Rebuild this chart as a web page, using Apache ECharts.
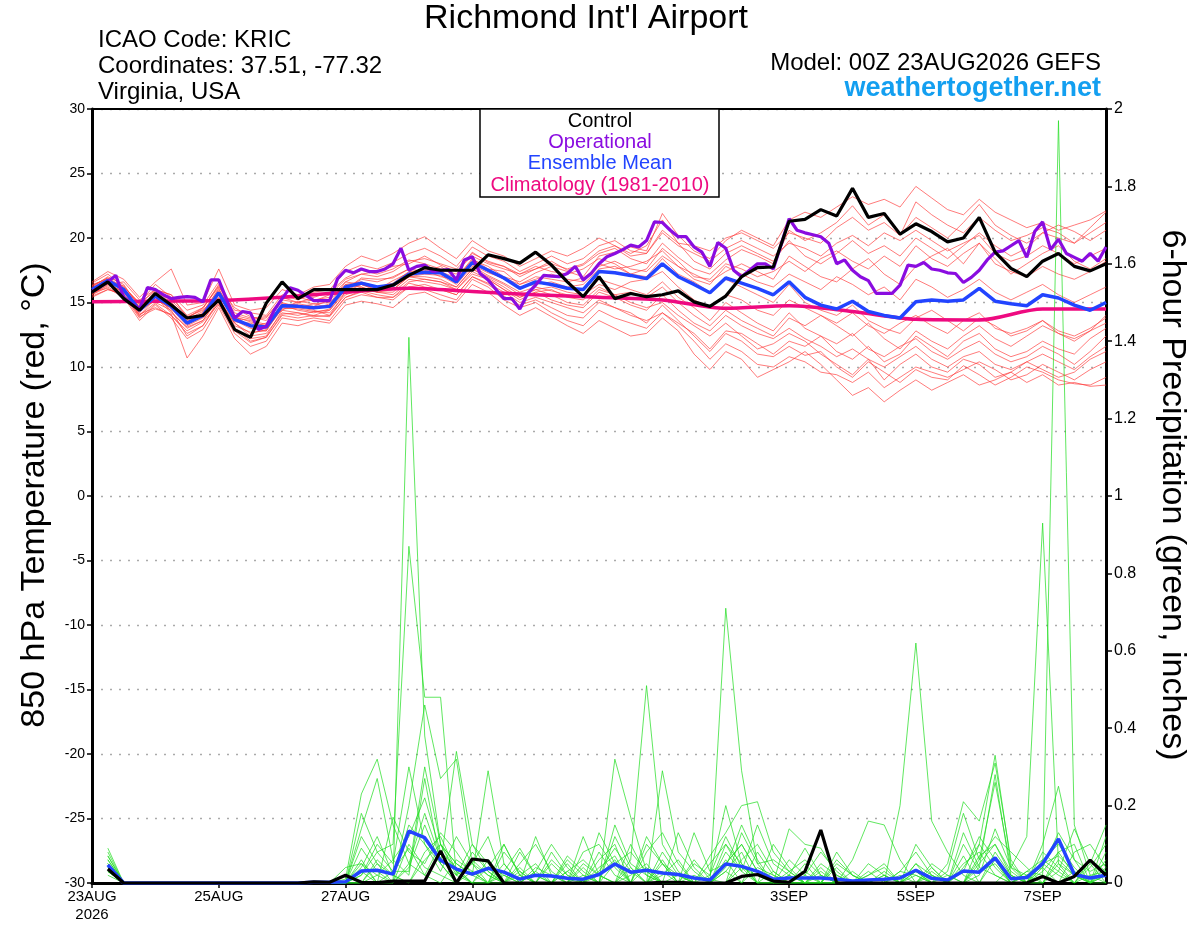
<!DOCTYPE html>
<html>
<head>
<meta charset="utf-8">
<title>Richmond Int'l Airport - GEFS</title>
<script src="https://cdn.jsdelivr.net/npm/echarts@6/dist/echarts.min.js"></script>
<style>
  html, body { margin: 0; padding: 0; background: #fff; }
  #main { width: 1200px; height: 927px; }
</style>
</head>
<body>
<div id="main"></div>
<script>
// x tick labels (hour offset from 00Z 23AUG2026 -> label)
var dayTicks = [0, 48, 96, 144, 216, 264, 312, 360];
var dayLabels = ['23AUG\n2026', '25AUG', '27AUG', '29AUG', '1SEP', '3SEP', '5SEP', '7SEP'];

// 850 hPa temperature, 6-hourly from 00h to 384h
var controlTemp = [15.8, 16.6, 15.3, 14.4, 15.7, 14.8, 13.8, 14.0, 15.2, 12.9, 12.3, 14.95, 16.6, 15.3, 16.0, 16.0,
  16.0, 16.0, 16.0, 16.35, 17.1, 17.7, 17.5, 17.5, 17.5, 18.7, 18.4, 18.05, 18.9, 17.9, 16.6, 15.45,
  17.0, 15.3, 15.7, 15.45, 15.6, 15.9, 15.05, 14.7, 15.5, 17.0, 17.7, 17.75, 21.3, 21.45, 22.2, 21.7,
  23.85, 21.6, 21.9, 20.3, 21.1, 20.5, 19.7, 20.0, 21.6, 18.9, 17.65, 17.0, 18.2, 18.8, 17.8, 17.45, 18.0];

var meanTemp = [16.0, 16.7, 16.0, 14.4, 15.5, 14.7, 13.4, 14.0, 15.75, 13.7, 13.2, 13.1, 14.75, 14.7, 14.6, 14.7,
  16.2, 16.5, 16.2, 16.35, 17.2, 17.35, 17.3, 16.6, 18.1, 17.5, 16.9, 16.1, 16.6, 16.4, 16.1, 16.0,
  17.4, 17.3, 17.1, 16.85, 18.0, 17.0, 16.4, 15.75, 16.9, 16.5, 16.1, 15.6, 16.6, 15.4, 14.8, 14.5,
  15.1, 14.3, 14.0, 13.8, 15.06, 15.2, 15.1, 15.2, 16.1, 15.1, 14.9, 14.75, 15.6, 15.35, 14.8, 14.4, 15.0];

// operational run, 3-hourly from 00h to 384h
var operTemp = [15.85, 16.2, 16.6, 17.1, 15.4, 14.9, 14.5, 16.15, 16.0, 15.6, 15.3, 15.4, 15.45, 15.4, 15.05, 16.75,
  16.75, 15.2, 13.8, 14.3, 14.2, 12.9, 13.15, 14.4, 15.3, 16.15, 15.95, 15.55, 15.15, 15.15, 15.15, 16.85,
  17.5, 17.3, 17.6, 17.4, 17.4, 17.6, 18.0, 19.2, 17.5, 17.8, 17.9, 17.4, 17.5, 17.55, 16.75, 18.3,
  18.55, 17.25, 16.75, 16.0, 15.3, 15.3, 14.5, 15.7, 16.35, 17.1, 17.05, 17.0, 17.25, 17.8, 16.75, 17.25,
  18.0, 18.55, 18.8, 19.1, 19.45, 19.3, 19.8, 21.25, 21.2, 20.6, 20.1, 20.1, 19.3, 18.9, 17.8, 19.65,
  19.2, 17.5, 17.0, 17.5, 18.0, 18.0, 17.6, 19.5, 21.5, 20.6, 20.4, 20.25, 20.1, 19.6, 18.0, 18.3,
  17.5, 17.0, 16.7, 15.7, 15.7, 15.7, 16.35, 17.9, 17.8, 18.1, 17.6, 17.5, 17.3, 17.25, 16.55, 16.95,
  17.5, 18.3, 18.9, 19.0, 19.4, 19.8, 18.5, 20.5, 21.25, 19.1, 19.9, 18.8, 18.5, 18.2, 18.8, 18.2, 19.3];

// climatology (1981-2010), daily
var climTemp = [15.05, 15.1, 15.15, 15.4, 15.8, 16.1, 15.85, 15.6, 15.4, 15.2, 14.55, 14.75, 14.3, 13.7, 13.65, 14.5, 14.5];

// ensemble members, 6-hourly
var memberTemps = [
  [16.3,16.9,16.2,15.0,16.4,15.4,14.0,14.6,16.3,14.2,13.8,13.9, 15.2,15.0,15.4,15.8,16.9,17.5,17.2,17.6,18.3,18.0,17.6,17.2,18.9,18.1,
   17.8,17.0,17.6,18.2,17.5,17.9,18.8,19.2,18.4,18.0,19.6,18.5,17.6,17.2,18.3,19.1,18.6,18.0,
   20.6,19.8,20.4,21.2,22.5,21.0,21.8,20.2,21.6,20.8,20.0,21.2,22.6,21.0,20.2,19.6,20.4,21.0,20.5,19.8,20.6],
  [15.6,16.2,15.5,13.8,14.9,14.0,12.6,13.2,15.0,12.8,11.9,12.3, 14.1,14.2,13.9,14.0,15.4,15.9,15.6,15.4,16.5,16.2,16.0,15.6,17.0,16.4,
   15.5,14.8,15.2,14.6,14.0,13.8,15.0,14.6,14.2,13.4,14.8,13.6,12.4,11.2,12.6,12.0,11.0,10.8,
   11.6,10.9,11.2,10.0,9.2,10.4,9.6,8.8,9.8,9.2,9.0,10.1,9.4,8.6,9.2,10.0,9.6,9.0,8.7,8.6,9.2],
  [16.1,16.6,16.3,14.8,15.2,15.0,13.7,14.3,16.0,14.0,13.1,13.4, 14.4,15.1,14.9,14.6,16.0,16.8,16.6,17.0,17.6,17.9,17.4,16.9,18.3,17.8,
   17.0,16.6,17.3,17.8,17.4,17.0,18.6,18.9,19.3,19.0,21.9,20.2,19.0,18.4,19.8,20.6,20.0,19.4,
   21.4,22.0,21.6,22.4,23.2,22.6,23.0,22.4,24.0,23.1,22.2,21.8,23.0,22.0,21.4,20.8,21.2,20.6,21.0,21.4,22.1],
  [15.9,16.5,15.8,14.2,15.6,14.3,13.0,13.6,15.4,13.2,12.7,12.8, 14.8,14.4,14.2,14.5,16.4,16.2,15.8,16.0,17.0,17.2,17.1,16.4,17.8,17.1,
   16.5,15.8,16.2,15.9,15.6,15.4,16.8,16.4,16.0,15.6,16.6,15.4,14.6,13.6,15.0,14.2,13.4,12.8,
   14.2,13.0,12.4,11.8,12.6,11.4,10.8,11.6,12.2,11.2,10.6,11.4,12.0,11.0,10.4,10.8,11.6,11.0,10.2,11.2,12.4],
  [16.2,17.0,16.4,14.6,15.8,15.2,13.9,14.4,15.6,13.5,13.4,13.0, 15.0,14.6,14.9,15.0,16.0,16.9,16.8,16.9,17.6,17.4,17.8,16.9,18.4,17.6,
   17.4,16.4,17.0,16.8,16.6,16.9,17.8,18.2,17.6,17.4,18.6,17.8,17.2,16.6,17.4,18.0,17.4,16.8,
   18.6,17.8,17.0,16.6,17.6,18.4,17.2,16.4,17.8,18.6,19.2,18.0,19.6,18.4,17.2,18.0,18.8,19.4,18.2,17.6,18.4],
  [15.4,16.0,15.6,13.9,14.5,14.1,10.7,12.4,14.6,12.2,11.0,11.6, 13.4,13.2,13.6,13.4,14.8,15.1,14.9,14.6,15.6,15.8,15.2,15.0,16.4,15.8,
   14.8,14.0,14.6,13.9,13.2,12.6,13.6,13.0,12.4,12.6,13.8,12.8,11.0,9.8,11.2,10.6,9.2,9.8,
   10.4,11.2,10.2,9.0,7.8,8.4,7.3,8.2,9.0,8.2,8.8,9.4,8.6,9.0,9.6,8.8,9.4,8.6,8.8,8.5,8.6],
  [16.4,16.8,16.1,14.5,15.1,14.9,13.6,14.1,15.9,13.9,13.5,13.2, 14.9,14.8,14.5,14.9,16.6,16.4,16.0,16.7,17.3,17.6,17.4,16.7,18.2,17.4,
   16.8,16.2,16.4,16.6,16.2,16.4,17.6,17.8,17.2,17.0,18.4,17.2,16.6,15.8,16.8,16.2,15.6,15.0,
   16.4,15.0,14.4,14.0,14.8,13.6,13.0,12.6,13.8,14.4,13.6,12.8,13.8,13.2,12.4,12.8,13.6,12.6,12.2,12.8,13.4],
  [16.0,16.4,16.6,15.2,16.0,15.6,14.4,14.8,16.6,14.4,14.2,14.0, 15.6,15.2,15.8,16.0,17.4,17.9,17.6,18.1,18.8,19.2,18.6,17.8,19.3,18.6,
   18.2,17.4,18.0,18.6,18.0,18.4,19.4,19.8,19.0,18.8,20.4,19.4,18.8,18.2,19.2,19.8,19.2,18.6,
   19.6,19.2,18.6,19.6,20.2,19.4,20.4,19.8,20.6,19.8,19.0,19.6,20.2,18.8,18.2,18.6,19.4,18.8,18.0,18.6,19.2],
  [15.7,16.3,15.9,14.0,15.3,14.5,13.2,13.8,15.2,13.4,12.4,12.6, 14.2,14.0,14.3,14.2,15.6,16.0,15.8,15.8,16.8,16.6,16.4,16.0,17.4,16.8,
   16.0,15.2,15.8,15.2,14.8,14.6,15.8,15.4,14.8,14.4,15.6,14.4,13.4,12.8,14.0,13.2,12.6,12.2,
   13.0,12.2,11.6,10.8,11.4,10.6,10.0,10.8,11.6,10.6,10.0,10.8,11.2,10.2,9.8,10.4,11.0,10.4,9.8,10.8,11.6],
  [16.5,17.2,16.2,14.9,16.0,15.6,13.8,14.6,16.2,14.6,13.9,13.6, 15.3,15.4,15.1,15.6,16.8,17.2,17.4,17.8,18.0,18.6,17.9,17.4,18.6,18.0,
   17.6,17.2,17.8,17.4,17.2,17.6,18.4,18.0,17.2,17.6,19.2,18.2,17.0,16.8,18.0,17.6,17.0,17.4,
   18.2,17.4,18.4,19.0,18.2,17.6,18.6,17.8,19.4,18.4,17.8,18.8,19.6,18.0,17.4,17.0,17.8,17.2,16.8,17.4,18.2],
  [15.8,16.1,15.4,13.6,14.8,13.8,12.2,12.9,14.8,12.6,11.6,12.0, 13.8,13.6,13.8,13.6,15.2,15.6,15.4,15.2,16.2,16.0,15.6,15.2,16.8,16.2,
   15.2,14.6,15.0,14.2,13.6,13.2,14.4,13.8,13.4,13.0,14.2,13.2,12.0,10.6,11.8,11.2,10.2,10.0,
   10.8,10.4,9.6,9.4,8.8,9.6,8.4,9.2,10.0,9.6,9.2,9.8,10.4,9.8,9.0,9.4,10.2,9.6,9.0,9.8,10.4],
  [16.2,16.8,15.9,14.7,15.4,14.8,13.5,14.2,16.1,13.8,13.6,13.3, 14.8,14.9,14.7,15.2,16.4,16.6,16.2,16.5,17.4,17.5,17.0,16.8,17.9,17.3,
   16.9,16.4,16.8,17.2,16.8,16.6,18.0,17.6,17.8,18.2,19.0,17.8,16.8,16.4,17.8,17.2,16.6,16.2,
   17.2,16.6,16.0,17.0,16.4,15.6,16.2,15.2,16.8,16.2,15.4,16.0,16.8,15.8,15.2,15.8,16.4,15.6,15.0,15.6,16.2],
  [15.5,16.0,15.7,14.1,14.6,14.0,12.8,13.5,14.9,13.0,12.0,12.3, 14.0,13.8,14.0,13.9,15.4,15.8,15.4,15.4,16.2,16.4,16.0,15.6,17.0,16.5,
   15.8,15.0,15.4,15.0,14.6,14.2,15.2,14.6,14.0,13.6,14.2,13.4,12.6,11.4,12.8,12.6,11.8,11.0,
   12.0,11.6,12.4,11.2,10.6,11.6,10.4,11.0,12.4,11.6,10.8,12.0,12.6,11.4,10.8,11.2,12.0,11.4,11.0,12.2,13.0],
  [16.6,17.4,16.8,15.4,16.6,17.6,14.8,15.0,17.6,14.8,14.4,14.6, 16.0,15.6,16.2,16.4,17.8,18.6,18.2,18.8,19.6,20.1,19.2,18.4,19.8,19.0,
   18.6,17.8,18.4,19.0,18.6,19.2,20.0,19.4,18.6,18.8,20.6,19.6,19.4,19.0,20.0,20.4,19.8,19.2,
   20.4,20.0,19.6,20.8,21.6,20.6,21.2,20.2,22.8,21.8,21.0,20.4,21.6,20.6,19.8,20.2,20.8,20.4,19.6,20.4,21.2],
  [15.9,16.6,16.0,14.3,15.2,14.6,13.3,13.9,15.6,13.6,13.0,12.8, 14.6,14.5,14.3,14.4,16.0,16.4,16.1,16.2,17.0,17.0,16.8,16.2,17.6,17.0,
   16.4,15.6,16.0,16.2,15.8,15.6,16.4,16.0,16.6,16.8,17.4,16.2,15.2,14.6,15.6,15.2,14.4,14.0,
   15.2,14.6,14.0,13.4,14.2,13.2,12.6,13.4,14.0,13.2,12.6,13.6,14.2,13.0,12.6,13.0,13.6,12.8,12.4,13.0,13.8],
  [16.0,16.5,15.6,14.0,15.0,14.4,12.4,13.2,15.2,13.0,12.2,12.4, 14.4,14.2,14.0,14.4,15.8,16.2,15.8,15.6,16.6,16.8,16.6,16.0,17.2,16.8,
   16.0,15.4,16.0,15.6,15.0,14.8,16.0,15.6,15.0,14.6,15.0,14.0,13.2,12.4,13.4,12.4,11.4,11.8,
   12.6,12.0,11.0,10.2,9.4,10.6,9.0,10.2,11.0,10.0,9.6,10.6,10.2,9.2,9.6,10.4,9.8,9.2,9.6,10.6,11.2],
  [16.3,16.9,16.0,14.9,15.9,15.0,13.8,14.5,16.4,14.0,13.7,13.8, 15.4,15.0,15.2,15.4,16.6,17.2,17.0,17.4,18.2,18.4,18.0,17.6,18.8,18.2,
   17.8,17.2,17.6,18.0,17.6,18.0,19.0,19.4,18.8,19.4,21.4,19.6,18.2,17.6,18.8,19.4,18.8,18.2,
   19.8,18.6,18.0,18.8,19.8,18.8,19.4,18.6,20.0,19.2,18.4,19.4,20.4,19.4,18.6,19.2,20.4,20.0,19.6,20.8,22.0],
  [15.6,16.4,15.8,14.4,15.4,14.2,13.1,13.6,15.3,13.4,12.6,12.9, 14.5,14.6,14.4,14.0,15.8,16.4,15.9,16.0,17.0,16.8,16.6,16.2,17.6,16.9,
   16.2,15.4,15.8,16.0,15.4,15.2,16.2,15.6,15.8,15.4,16.2,15.0,14.0,13.2,14.4,13.6,13.0,12.4,
   13.8,13.2,14.0,13.2,12.4,13.4,12.2,11.4,12.8,12.0,11.4,12.4,13.2,12.2,11.6,12.4,13.2,12.6,12.0,12.8,14.0]
];

// 6-hour precipitation (inches), 6-hourly from 06h to 384h
var controlPrecip = [0.036, 0, 0, 0, 0, 0, 0, 0, 0, 0, 0, 0, 0, 0.003, 0.002, 0.02,
  0.002, 0.001, 0.005, 0.005, 0.005, 0.083, 0, 0.062, 0.057, 0, 0, 0, 0, 0, 0, 0,
  0, 0, 0, 0.002, 0.002, 0, 0, 0, 0.017, 0.022, 0.005, 0.002, 0.03, 0.137, 0, 0,
  0, 0, 0, 0, 0, 0, 0, 0, 0, 0, 0, 0.017, 0, 0.017, 0.059, 0.02];

var meanPrecip = [0.047, 0, 0, 0, 0, 0, 0, 0, 0, 0, 0, 0, 0, 0.002, 0.002, 0.003,
  0.031, 0.033, 0.023, 0.134, 0.117, 0.059, 0.036, 0.023, 0.038, 0.028, 0.01, 0.02, 0.018, 0.012, 0.01, 0.022,
  0.049, 0.028, 0.033, 0.026, 0.022, 0.013, 0.008, 0.049, 0.043, 0.03, 0.01, 0.013, 0.013, 0.013, 0.01, 0.005,
  0.008, 0.01, 0.013, 0.033, 0.012, 0.008, 0.031, 0.028, 0.065, 0.011, 0.014, 0.05, 0.114, 0.022, 0.013, 0.02];

var memberPrecip = [
  [.05,0,0,0,0,0,0,0, 0,0,0,0,0,0,0,.01, .23,.32,.15,.05,.02,.1,.05,.02, .04,.1,.02,0,0,.03,0,0,
   .15,.05,.02,0,0,0,0,.05, .1,.03,0,0,.02,.08,.03,0, 0,0,0,.05,0,0,0,.1, .33,.05,0,.03,.08,.02,0,0],
  [.04,0,0,0,0,0,0,0, 0,0,0,0,0,0,0,0, .05,.02,0,1.41,.38,.1,.03,0, 0,.05,0,.12,.02,0,0,.06,
   .1,0,0,.03,0,0,.02,.12, .04,0,0,.06,.02,0,0,0, .02,.04,0,0,0,0,.03,.12, .06,0,.02,.05,.02,0,.04,.1],
  [.07,0,0,0,0,0,0,0, 0,0,0,0,0,0,0,0, .18,.08,.1,.87,.48,.48,.02,.05, .12,0,.08,.02,0,0,.12,.02,
   0,0,.08,.13,.05,0,0,0, .06,.1,.03,0,0,0,.05,.02, 0,0,0,.02,0,.05,.21,.16, .31,.06,0,.02,0,.03,0,.04],
  [.03,0,0,0,0,0,0,0, 0,0,0,0,0,0,0,0, .14,.27,.06,.02,.27,.05,.34,.1, .05,.02,0,0,.08,.02,0,0,
   .32,.17,.03,0,0,.05,.02,.2, .05,0,0,.14,.1,.09,.02,0, 0,0,.03,.08,.02,0,0,0, .08,.02,0,.06,.1,.04,0,.02],
  [.06,0,0,0,0,0,0,0, 0,0,0,0,0,0,0,0, .09,.03,0,.2,.46,.27,.32,.05, .02,0,.03,0,0,.07,.03,0,
   0,.06,.51,.1,.03,0,0,.03, 0,.04,.02,0,0,0,.08,.02, 0,0,0,0,.05,.02,0,.06, .12,.08,.04,0,.05,0,.02,0],
  [.08,0,0,0,0,0,0,0, 0,0,0,0,0,0,0,.04, .05,0,.17,.08,.05,.13,.08,.02, .29,.05,0,.03,.1,.04,0,.13,
   .05,0,0,.29,.08,.03,0,.71, .29,.05,0,0,.05,0,0,.06, .16,.15,.06,0,.02,0,0,.04, .02,0,.03,.06,.03,.14,.05,0],
  [.02,0,0,0,0,0,0,0, 0,0,0,0,0,0,0,0, 0,.05,.02,.15,.1,.05,0,.08, .03,0,.05,.1,.03,0,.08,.1,
   .04,0,.1,.05,0,0,.07,.13, .2,.21,.08,.03,0,.05,.02,0, 0,0,.2,.62,.16,.08,.02,0, 0,.04,.02,0,.06,.02,0,.12],
  [.04,0,0,0,0,0,0,0, 0,0,0,0,0,0,0,0, .02,.1,.05,.3,.1,.03,.12,.05, 0,.08,.03,0,0,.03,.06,.02,
   0,.1,.02,0,.13,.04,0,0, .13,.05,.06,.03,0,.02,0,0, .02,.05,0,.03,0,.03,.18,.06, .26,.04,.12,.93,.05,.02,0,.06],
  [.05,0,0,0,0,0,0,0, 0,0,0,0,0,0,0,0, .03,0,0,.05,.18,.06,.02,.1, .03,0,0,.04,.02,0,0,.03,
   .09,.03,0,.06,0,.13,.03,.05, .1,.03,0,.02,.09,.02,0,0, .03,0,0,.05,.02,0,.1,.03, .05,0,.03,.02,1.97,.15,.02,.03],
  [.03,0,0,0,0,0,0,0, 0,0,0,0,0,0,0,0, 0,.02,.06,.12,.22,.08,.04,0, 0,.03,.09,.02,0,0,.02,0,
   .05,.08,.03,0,.02,0,0,.08, .03,.15,.05,.02,0,0,.06,.02, 0,0,.02,0,0,0,.13,.04, .28,.02,0,.04,.13,.06,.03,.05],
  [.06,0,0,0,0,0,0,0, 0,0,0,0,0,0,0,0, .12,.05,0,.1,.04,.02,0,.06, .02,0,0,0,.05,.01,0,.08,
   .02,0,.12,.05,0,0,.05,.1, .03,0,.1,.04,0,0,0,.03, 0,.02,0,0,.04,0,.05,.08, .02,0,0,.1,.25,.06,0,.02],
  [.09,0,0,0,0,0,0,0, 0,0,0,0,0,0,0,0, .02,.08,.03,.03,.3,.1,.05,.02, 0,.1,.02,0,0,.06,.02,0,
   .12,.04,0,.05,.02,0,0,.04, .15,.06,0,.03,.06,.02,0,0, 0,.03,0,.1,.04,0,0,.07, .1,.03,0,.08,.04,0,.06,.03],
  [.04,0,0,0,0,0,0,0, 0,0,0,0,0,0,0,0, 0,.06,.02,0,.08,.12,.03,0, .06,0,.02,.05,0,0,.04,0,
   0,.02,.05,0,0,.02,0,.06, 0,.08,.02,0,0,.04,0,0, 0,.02,0,0,0,.02,0,.05, .1,.02,0,0,.08,.1,0,.03],
  [.05,0,0,0,0,0,0,0, 0,0,0,0,0,0,0,0, .06,0,0,.04,.15,.05,0,.03, 0,.02,0,0,.06,.02,0,.04,
   .07,0,0,.02,.06,0,0,.1, .05,0,0,.02,0,0,.04,0, 0,0,.03,.02,0,0,.07,0, .06,0,.02,.04,0,.08,.1,.04],
  [.03,0,0,0,0,0,0,0, 0,0,0,0,0,0,0,0, 0,0,.03,.09,.02,0,.06,.03, 0,0,.04,0,0,.05,0,.02,
   .06,0,.04,0,0,.06,.01,0, .04,.02,0,0,.03,0,0,0, .05,.02,0,0,.03,0,0,.02, .14,.04,0,0,.03,0,.05,.15],
  [.07,0,0,0,0,0,0,0, 0,0,0,0,0,0,0,0, .04,.12,.02,0,.06,.1,.02,0, .04,0,0,.03,0,0,.05,.02,
   0,.04,0,.08,.02,0,0,.03, .08,0,.03,0,0,.03,0,0, 0,0,0,.03,0,0,.04,.1, .04,0,0,.05,.07,.03,0,.08]
];

var chartDom = document.getElementById('main');
var myChart = echarts.init(chartDom);
var option;

var font = "'Liberation Sans', Arial, sans-serif";

function everySix(vals, start) {
  return vals.map(function (v, i) { return [start + i * 6, v]; });
}

var series = [];

memberTemps.forEach(function (m, k) {
  series.push({
    name: 'member' + k,
    type: 'line',
    yAxisIndex: 0,
    data: everySix(m, 0),
    symbol: 'none',
    silent: true,
    lineStyle: { color: '#ff3a3a', width: 0.9, opacity: 0.75 }
  });
});

memberPrecip.forEach(function (m, k) {
  series.push({
    name: 'precip' + k,
    type: 'line',
    yAxisIndex: 1,
    data: everySix(m, 6),
    symbol: 'none',
    silent: true,
    lineStyle: { color: '#22dd22', width: 0.8, opacity: 0.9 }
  });
});

series.push({
  name: 'Climatology (1981-2010)',
  type: 'line',
  yAxisIndex: 0,
  data: climTemp.map(function (v, d) { return [d * 24, v]; }),
  symbol: 'none',
  smooth: 0.3,
  lineStyle: { color: '#ee0a80', width: 3.5 }
});
series.push({
  name: 'Ensemble Mean',
  type: 'line',
  yAxisIndex: 0,
  data: everySix(meanTemp, 0),
  symbol: 'none',
  lineStyle: { color: '#2244ff', width: 3.5 }
});
series.push({
  name: 'Operational',
  type: 'line',
  yAxisIndex: 0,
  data: operTemp.map(function (v, j) { return [j * 3, v]; }),
  symbol: 'none',
  lineStyle: { color: '#8a0ce0', width: 3.2 }
});
series.push({
  name: 'Control',
  type: 'line',
  yAxisIndex: 0,
  data: everySix(controlTemp, 0),
  symbol: 'none',
  lineStyle: { color: '#000', width: 3.2 }
});
series.push({
  name: 'Ensemble Mean precip',
  type: 'line',
  yAxisIndex: 1,
  data: everySix(meanPrecip, 6),
  symbol: 'none',
  lineStyle: { color: '#2244ff', width: 3.5 }
});
series.push({
  name: 'Control precip',
  type: 'line',
  yAxisIndex: 1,
  data: everySix(controlPrecip, 6),
  symbol: 'none',
  lineStyle: { color: '#000', width: 3.2 }
});

function txt(x, y, text, size, color, align, weight) {
  return {
    type: 'text',
    x: x,
    y: y,
    z: 100,
    style: {
      text: text,
      fill: color || '#000',
      font: (weight || 'normal') + ' ' + size + 'px ' + font,
      align: align || 'left',
      verticalAlign: 'middle'
    }
  };
}

option = {
  animation: false,
  backgroundColor: '#fff',
  grid: { left: 92, right: 94, top: 109, bottom: 44 },
  xAxis: {
    type: 'value',
    min: 0,
    max: 384,
    axisLine: { onZero: false, lineStyle: { color: '#000', width: 3 } },
    axisTick: { customValues: dayTicks, length: 5, lineStyle: { color: '#000', width: 1.5 } },
    axisLabel: {
      customValues: dayTicks,
      color: '#000',
      fontFamily: font,
      fontSize: 15,
      lineHeight: 18,
      margin: 5,
      formatter: function (v) {
        var k = dayTicks.indexOf(v);
        return k >= 0 ? dayLabels[k] : '';
      }
    },
    splitLine: { show: false }
  },
  yAxis: [
    {
      type: 'value',
      min: -30,
      max: 30,
      interval: 5,
      axisLine: { show: true, onZero: false, lineStyle: { color: '#000', width: 3 } },
      axisTick: { show: true, length: 5, lineStyle: { color: '#000', width: 1.5 } },
      axisLabel: { color: '#000', fontFamily: font, fontSize: 14, margin: 7 },
      splitLine: { show: true, lineStyle: { color: '#aaa', type: [2, 7], width: 1.3 } }
    },
    {
      type: 'value',
      min: 0,
      max: 2,
      interval: 0.2,
      position: 'right',
      axisLine: { show: true, onZero: false, lineStyle: { color: '#000', width: 3 } },
      axisTick: { show: true, length: 6, lineStyle: { color: '#000', width: 1.5 } },
      axisLabel: {
        color: '#000', fontFamily: font, fontSize: 16, margin: 8,
        formatter: function (v) { return String(Math.round(v * 10) / 10); }
      },
      splitLine: { show: false }
    }
  ],
  graphic: [
    // top frame
    { type: 'line', z: 90, shape: { x1: 92, y1: 109, x2: 1106, y2: 109 }, style: { stroke: '#000', lineWidth: 2 } },
    txt(586, 19, "Richmond Int'l Airport", 34, '#000', 'center'),
    txt(98, 40, 'ICAO Code: KRIC', 24),
    txt(98, 66, 'Coordinates: 37.51, -77.32', 24),
    txt(98, 92, 'Virginia, USA', 24),
    txt(1101, 63, 'Model: 00Z 23AUG2026 GEFS', 24, '#000', 'right'),
    txt(1101, 89, 'weathertogether.net', 27, '#139ff0', 'right', 'bold'),
    // legend box
    { type: 'rect', z: 95, shape: { x: 480, y: 109, width: 239, height: 88 }, style: { fill: '#fff', stroke: '#000', lineWidth: 1.5 } },
    txt(600, 121, 'Control', 20, '#000', 'center'),
    txt(600, 142, 'Operational', 20, '#8a0ce0', 'center'),
    txt(600, 163, 'Ensemble Mean', 20, '#2244ff', 'center'),
    txt(600, 185, 'Climatology (1981-2010)', 20, '#ee0a80', 'center'),
    // axis titles
    {
      type: 'text', x: 35, y: 495, rotation: Math.PI / 2, z: 100,
      style: { text: '850 hPa Temperature (red, °C)', font: '34px ' + font, fill: '#000', align: 'center', verticalAlign: 'middle' }
    },
    {
      type: 'text', x: 1172, y: 495, rotation: -Math.PI / 2, z: 100,
      style: { text: '6-hour Precipitation (green, inches)', font: '34px ' + font, fill: '#000', align: 'center', verticalAlign: 'middle' }
    }
  ],
  series: series
};

option && myChart.setOption(option);
</script>
</body>
</html>
